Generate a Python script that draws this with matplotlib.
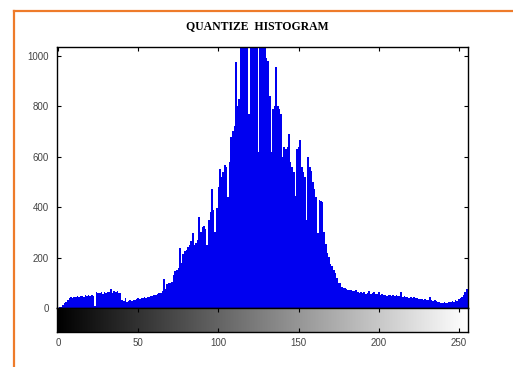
import numpy as np
import matplotlib
matplotlib.use("Agg")
import matplotlib.pyplot as plt
from matplotlib.lines import Line2D

# histogram counts for gray levels 0..255
counts = [
    0, 2, 5, 10, 18, 25, 32, 38, 42, 40, 45, 44, 47, 43, 46, 48,
    45, 50, 47, 52, 48, 50, 46, 8, 62, 58, 60, 63, 57, 62, 60, 65,
    62, 74, 60, 66, 63, 68, 58, 60, 30, 28, 38, 25, 27, 32, 26, 30,
    33, 35, 38, 36, 40, 39, 42, 40, 44, 43, 46, 48, 50, 52, 55, 58,
    60, 68, 115, 75, 95, 98, 100, 105, 130, 148, 150, 160, 236, 180, 215, 225,
    230, 240, 250, 265, 296, 250, 258, 270, 362, 300, 320, 325, 315, 250, 350, 380,
    472, 390, 300, 395, 480, 553, 520, 540, 566, 560, 441, 580, 680, 700, 720, 975,
    800, 830, 1100, 1150, 1200, 1120, 1150, 770, 1100, 1200, 1180, 1250, 1150, 620, 1080, 1150,
    1100, 1060, 990, 980, 840, 620, 790, 800, 956, 800, 790, 770, 600, 640, 630, 640,
    690, 580, 560, 540, 445, 630, 640, 665, 560, 540, 520, 348, 600, 560, 545, 500,
    470, 440, 296, 430, 425, 420, 300, 255, 220, 203, 175, 165, 150, 140, 120, 100,
    98, 85, 80, 78, 75, 72, 70, 72, 68, 66, 70, 62, 60, 63, 58, 62,
    57, 60, 66, 55, 58, 64, 56, 54, 62, 52, 55, 50, 53, 48, 52, 50,
    48, 52, 47, 50, 46, 48, 65, 44, 46, 42, 45, 40, 43, 41, 44, 38,
    40, 36, 34, 35, 32, 34, 30, 33, 42, 30, 28, 30, 26, 25, 22, 20,
    18, 22, 19, 20, 24, 22, 26, 25, 30, 28, 35, 38, 45, 50, 62, 75,
]
levels = np.arange(256)
x_ticks = [0, 50, 100, 150, 200, 250]
y_ticks = [0, 200, 400, 600, 800, 1000]
title = "QUANTIZE  HISTOGRAM"

tick_font = dict(family=["Liberation Sans Narrow", "Liberation Sans"], size=7, color="#444444")

fig = plt.figure(figsize=(5.13, 3.67), dpi=100)
fig.patch.set_facecolor("white")

# main histogram axes
ax = fig.add_axes([57.3 / 513, 59 / 367, 410.4 / 513, 261 / 367])
edges = np.append(levels, 256) - 0.5
ax.stairs(counts, edges, fill=True, color="#0000f0", linewidth=0)
ax.set_xlim(-0.5, 255.5)
ax.set_ylim(0, 1035)
ax.set_yticks(y_ticks)
ax.set_yticklabels([str(v) for v in y_ticks], fontdict=tick_font)
ax.set_xticks(x_ticks)
ax.tick_params(axis="x", direction="in", top=True, bottom=False, labelbottom=False, length=3, width=0.8)
ax.tick_params(axis="y", direction="in", left=True, right=True, length=3, width=0.8, pad=6)
for s in ax.spines.values():
    s.set_linewidth(1.0)

# gray level bar below
cax = fig.add_axes([57.3 / 513, 35 / 367, 410.4 / 513, 24 / 367])
cax.imshow(levels[np.newaxis, :], cmap="gray", aspect="auto",
           extent=[-0.5, 255.5, 0, 1], vmin=0, vmax=255)
cax.set_xlim(-0.5, 255.5)
cax.set_yticks([])
cax.set_xticks(x_ticks)
cax.set_xticklabels([str(v) for v in x_ticks], fontdict=tick_font)
cax.tick_params(axis="x", direction="in", top=True, bottom=True, length=3, width=0.8, pad=4)
for s in cax.spines.values():
    s.set_linewidth(1.0)

fig.text(257 / 513, 1 - 26 / 367, title, ha="center", va="center",
         family="Liberation Serif", weight="bold", size=8.5)

# orange frame lines (top and left)
orange = "#ee7b2a"
fig.add_artist(Line2D([13.5 / 513, 1.0], [1 - 11 / 367, 1 - 11 / 367], color=orange, lw=1.6))
fig.add_artist(Line2D([13.5 / 513, 13.5 / 513], [0.0, 1 - 11 / 367], color=orange, lw=1.6))

fig.savefig("out.png", dpi=100)
